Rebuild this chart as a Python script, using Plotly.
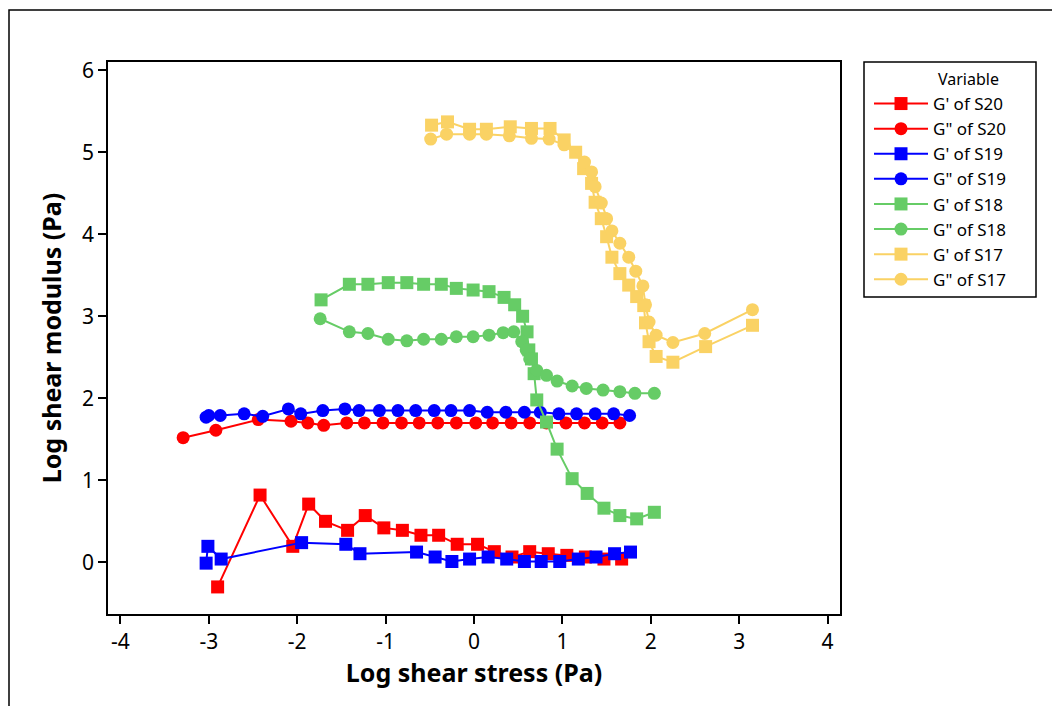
import plotly.graph_objects as go

# ---- data ----
s20_gp_x = [-2.90, -2.42, -2.05, -1.87, -1.68, -1.43, -1.23, -1.02, -0.81, -0.60, -0.40,
            -0.19, 0.04, 0.23, 0.43, 0.63, 0.84, 1.05, 1.26, 1.47, 1.67]
s20_gp_y = [-0.30, 0.82, 0.195, 0.71, 0.50, 0.39, 0.57, 0.42, 0.39, 0.33, 0.33,
            0.22, 0.22, 0.13, 0.065, 0.13, 0.105, 0.085, 0.065, 0.04, 0.04]

s20_gpp_x = [-3.29, -2.92, -2.44, -2.07, -1.88, -1.70, -1.44, -1.24, -1.03, -0.82, -0.62,
             -0.41, -0.20, 0.02, 0.21, 0.42, 0.63, 0.82, 1.04, 1.25, 1.45, 1.65]
s20_gpp_y = [1.52, 1.61, 1.74, 1.72, 1.70, 1.67, 1.70, 1.70, 1.70, 1.70, 1.70,
             1.70, 1.70, 1.70, 1.70, 1.70, 1.70, 1.70, 1.70, 1.70, 1.70, 1.70]

s19_gp_x = [-3.03, -3.01, -2.86, -1.95, -1.45, -1.29, -0.65, -0.44, -0.25, -0.05, 0.16,
            0.37, 0.57, 0.76, 0.97, 1.18, 1.38, 1.59, 1.77]
s19_gp_y = [-0.01, 0.195, 0.04, 0.24, 0.22, 0.105, 0.125, 0.065, 0.01, 0.04, 0.065,
            0.04, 0.01, 0.01, 0.01, 0.04, 0.065, 0.105, 0.125]

s19_gpp_x = [-3.03, -3.00, -2.87, -2.60, -2.39, -2.10, -1.96, -1.71, -1.46, -1.30, -1.07,
             -0.86, -0.66, -0.45, -0.26, -0.05, 0.15, 0.36, 0.57, 0.75, 0.96, 1.16,
             1.37, 1.58, 1.76]
s19_gpp_y = [1.77, 1.79, 1.79, 1.81, 1.78, 1.87, 1.81, 1.85, 1.87, 1.85, 1.85,
             1.85, 1.85, 1.85, 1.85, 1.85, 1.83, 1.83, 1.83, 1.83, 1.81, 1.81,
             1.81, 1.81, 1.79]

s18_gp_x = [-1.73, -1.41, -1.20, -0.97, -0.76, -0.57, -0.37, -0.20, -0.01, 0.17, 0.34,
            0.46, 0.55, 0.60, 0.62, 0.65, 0.68, 0.71, 0.82, 0.94, 1.11, 1.28, 1.47,
            1.65, 1.84, 2.04]
s18_gp_y = [3.20, 3.39, 3.39, 3.41, 3.41, 3.39, 3.39, 3.34, 3.32, 3.30, 3.23,
            3.14, 3.00, 2.81, 2.59, 2.48, 2.30, 1.98, 1.71, 1.38, 1.02, 0.84, 0.66,
            0.57, 0.53, 0.61]

s18_gpp_x = [-1.74, -1.41, -1.20, -0.97, -0.76, -0.57, -0.37, -0.20, -0.01, 0.17, 0.33,
             0.45, 0.54, 0.59, 0.63, 0.71, 0.82, 0.94, 1.11, 1.27, 1.46, 1.65, 1.82, 2.04]
s18_gpp_y = [2.97, 2.81, 2.79, 2.72, 2.70, 2.72, 2.72, 2.75, 2.75, 2.77, 2.80,
             2.81, 2.69, 2.59, 2.48, 2.34, 2.28, 2.21, 2.15, 2.12, 2.10, 2.08, 2.06, 2.06]

s17_gp_x = [-0.48, -0.30, -0.05, 0.14, 0.41, 0.65, 0.86, 1.02, 1.15, 1.24, 1.33, 1.37,
            1.44, 1.50, 1.56, 1.65, 1.75, 1.84, 1.92, 1.94, 1.98, 2.06, 2.25, 2.62, 3.15]
s17_gp_y = [5.33, 5.37, 5.28, 5.28, 5.31, 5.29, 5.29, 5.15, 5.00, 4.80, 4.62, 4.39,
            4.19, 3.97, 3.72, 3.52, 3.38, 3.24, 3.13, 2.92, 2.69, 2.51, 2.44, 2.63, 2.89]

s17_gpp_x = [-0.49, -0.31, -0.05, 0.14, 0.40, 0.65, 0.85, 1.02, 1.25, 1.33, 1.37, 1.44,
             1.50, 1.56, 1.65, 1.75, 1.83, 1.91, 1.94, 1.98, 2.06, 2.25, 2.61, 3.15]
s17_gpp_y = [5.16, 5.22, 5.22, 5.22, 5.20, 5.17, 5.16, 5.09, 4.88, 4.76, 4.58, 4.38,
             4.19, 4.04, 3.89, 3.72, 3.55, 3.37, 3.14, 2.93, 2.77, 2.68, 2.79, 3.08]

x_ticks = [-4, -3, -2, -1, 0, 1, 2, 3, 4]
y_ticks = [0, 1, 2, 3, 4, 5, 6]

RED, BLUE, GREEN, YELLOW = "#FF0000", "#0000FF", "#66CC66", "#FAD264"

series = [
    ("G' of S20", s20_gp_x, s20_gp_y, RED, "square"),
    ('G" of S20', s20_gpp_x, s20_gpp_y, RED, "circle"),
    ("G' of S19", s19_gp_x, s19_gp_y, BLUE, "square"),
    ('G" of S19', s19_gpp_x, s19_gpp_y, BLUE, "circle"),
    ("G' of S18", s18_gp_x, s18_gp_y, GREEN, "square"),
    ('G" of S18', s18_gpp_x, s18_gpp_y, GREEN, "circle"),
    ("G' of S17", s17_gp_x, s17_gp_y, YELLOW, "square"),
    ('G" of S17', s17_gpp_x, s17_gpp_y, YELLOW, "circle"),
]

fig = go.Figure()
for name, xs, ys, col, sym in series:
    fig.add_trace(go.Scatter(
        x=xs, y=ys, name=name, mode="lines+markers",
        line=dict(color=col, width=2),
        marker=dict(color=col, symbol=sym, size=13, line=dict(width=0)),
    ))

W, H = 1052, 706
L, R, T, B = 108, 840, 62, 614
pw, ph = R - L, B - T


def px(xp):
    return (xp - L) / pw


def py(yp):
    return (B - yp) / ph


FONT = "Noto Sans"
fig.update_layout(
    width=W, height=H,
    margin=dict(l=L, r=W - R, t=T, b=H - B, pad=0),
    paper_bgcolor="white", plot_bgcolor="white",
    font=dict(family=FONT, color="black"),
    showlegend=True,
    legend=dict(
        x=px(869), y=py(86), xanchor="left", yanchor="top",
        bgcolor="rgba(0,0,0,0)", borderwidth=0,
        font=dict(family=FONT, size=17, color="black"),
        itemsizing="trace", itemwidth=54,
    ),
    xaxis=dict(
        range=[-4.14, 4.14], tickvals=x_ticks, ticktext=[str(v) for v in x_ticks],
        showgrid=False, zeroline=False, showline=True, linecolor="black", linewidth=1.5,
        mirror=True, ticks="outside", ticklen=8, tickwidth=1.5, tickcolor="black",
        tickfont=dict(family=FONT, size=21, color="black"),
        title=dict(text="<b>Log shear stress (Pa)</b>", font=dict(family=FONT, size=25), standoff=5),
    ),
    yaxis=dict(
        range=[-0.63, 6.10], tickvals=y_ticks, ticktext=[str(v) for v in y_ticks],
        showgrid=False, zeroline=False, showline=True, linecolor="black", linewidth=1.5,
        mirror=True, ticks="outside", ticklen=8, tickwidth=1.5, tickcolor="black",
        tickfont=dict(family=FONT, size=21, color="black"),
        title=dict(text="<b>Log shear modulus (Pa)</b>", font=dict(family=FONT, size=25), standoff=13),
    ),
    shapes=[
        # outer graph frame
        dict(type="rect", xref="paper", yref="paper",
             x0=px(9), x1=px(1070), y0=py(730), y1=py(10),
             line=dict(color="black", width=1.5), fillcolor="rgba(0,0,0,0)", layer="below"),
        # legend box
        dict(type="rect", xref="paper", yref="paper",
             x0=px(864), x1=px(1036), y0=py(297), y1=py(62),
             line=dict(color="black", width=1.5), fillcolor="rgba(0,0,0,0)"),
    ],
    annotations=[
        dict(text="Variable", xref="paper", yref="paper", x=px(936), y=py(79),
             xanchor="left", yanchor="middle", showarrow=False,
             font=dict(family=FONT, size=16, color="black")),
    ],
)

fig.write_html("out.html")
